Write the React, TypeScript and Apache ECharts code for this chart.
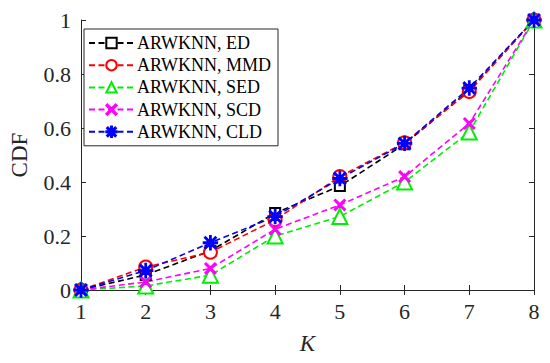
import React, { useEffect, useRef } from "react";
import * as echarts from "echarts";

const K = [1, 2, 3, 4, 5, 6, 7, 8];
const seriesNames = ["ARWKNN, ED", "ARWKNN, MMD", "ARWKNN, SED", "ARWKNN, SCD", "ARWKNN, CLD"];
const ED = [0, 0.056, 0.145, 0.285, 0.385, 0.54, 0.74, 1];
const MMD = [0, 0.085, 0.14, 0.26, 0.42, 0.545, 0.735, 1];
const SED = [0, 0.015, 0.055, 0.2, 0.272, 0.4, 0.585, 1];
const SCD = [0, 0.03, 0.08, 0.225, 0.315, 0.42, 0.617, 1];
const CLD = [0, 0.072, 0.175, 0.272, 0.413, 0.543, 0.748, 1];
const yTicks = [0, 0.2, 0.4, 0.6, 0.8, 1];

const X_PATH =
  "path://M2,0 L10,8 L18,0 L20,2 L12,10 L20,18 L18,20 L10,12 L2,20 L0,18 L8,10 L0,2 Z";
const STAR_PATH =
  "path://M9,0 L11,0 L11,20 L9,20 Z M0,9 L20,9 L20,11 L0,11 Z M1.5,3 L3,1.5 L18.5,17 L17,18.5 Z M17,1.5 L18.5,3 L3,18.5 L1.5,17 Z";

const FONT = "'Liberation Serif', 'Times New Roman', Times, serif";
const AXIS_COLOR = "#262626";

export default function App() {
  const ref = useRef<HTMLDivElement>(null);
  useEffect(() => {
    if (!ref.current) return;
    const chart = echarts.init(ref.current, null, { renderer: "svg" });
    const values = [ED, MMD, SED, SCD, CLD];
    const colors = ["#000000", "#ff0000", "#00ee00", "#ff00ff", "#0000ff"];
    const symbols = ["emptyRect", "emptyCircle", "emptyTriangle", X_PATH, STAR_PATH];
    const sizes = [10, 13, 15, 11, 14];
    const series = values.map((v, i) => ({
      name: seriesNames[i],
      type: "line",
      xAxisIndex: 0,
      yAxisIndex: 0,
      data: K.map((k, j) => [k, v[j]]),
      symbol: symbols[i],
      symbolSize: sizes[i],
      showAllSymbol: true,
      lineStyle: { color: colors[i], width: 1.6, type: [6, 3.5] },
      itemStyle: {
        color: colors[i],
        borderColor: colors[i],
        borderWidth: 1.4,
      },
      emphasis: { disabled: true },
    }));
    const tickStyle = { inside: true, length: 5, lineStyle: { color: AXIS_COLOR, width: 1 } };
    chart.setOption({
      animation: false,
      backgroundColor: "#ffffff",
      grid: { left: 77, right: 16, top: 20, bottom: 73, containLabel: false },
      legend: {
        orient: "vertical",
        left: 84,
        top: 29,
        padding: [5, 7, 5, 4],
        itemWidth: 45,
        itemHeight: 13,
        itemGap: 4.2,
        backgroundColor: "#ffffff",
        borderColor: AXIS_COLOR,
        borderWidth: 1,
        borderRadius: 0,
        textStyle: { fontFamily: FONT, fontSize: 18, color: "#000", padding: [0, 0, 0, -2] },
        data: seriesNames,
      },
      xAxis: [
        {
          type: "value",
          min: 1,
          max: 8,
          interval: 1,
          name: "K",
          nameLocation: "middle",
          nameGap: 42,
          nameTextStyle: { fontFamily: FONT, fontSize: 23, fontStyle: "italic", color: AXIS_COLOR },
          axisLine: { lineStyle: { color: AXIS_COLOR, width: 1 } },
          axisTick: tickStyle,
          axisLabel: { fontFamily: FONT, fontSize: 22, color: AXIS_COLOR, margin: 10 },
          splitLine: { show: false },
        },
        {
          type: "value",
          position: "top",
          min: 1,
          max: 8,
          interval: 1,
          axisLine: { lineStyle: { color: AXIS_COLOR, width: 1 } },
          axisTick: tickStyle,
          axisLabel: { show: false },
          splitLine: { show: false },
        },
      ],
      yAxis: [
        {
          type: "value",
          min: 0,
          max: 1,
          interval: 0.2,
          name: "CDF",
          nameLocation: "middle",
          nameGap: 50,
          nameTextStyle: { fontFamily: FONT, fontSize: 23, color: AXIS_COLOR },
          axisLine: { show: true, lineStyle: { color: AXIS_COLOR, width: 1 } },
          axisTick: { show: true, ...tickStyle },
          axisLabel: {
            fontFamily: FONT,
            fontSize: 22,
            color: AXIS_COLOR,
            margin: 10,
            formatter: (val: number) => {
              const t = yTicks.find((y) => Math.abs(y - val) < 1e-6);
              return t === undefined ? "" : String(t);
            },
          },
          splitLine: { show: false },
        },
        {
          type: "value",
          position: "right",
          min: 0,
          max: 1,
          interval: 0.2,
          axisLine: { show: true, lineStyle: { color: AXIS_COLOR, width: 1 } },
          axisTick: { show: true, ...tickStyle },
          axisLabel: { show: false },
          splitLine: { show: false },
        },
      ],
      series,
    });
    return () => chart.dispose();
  }, []);
  return <div ref={ref} style={{ width: 550, height: 363, position: "absolute", left: 0, top: 0 }} />;
}
